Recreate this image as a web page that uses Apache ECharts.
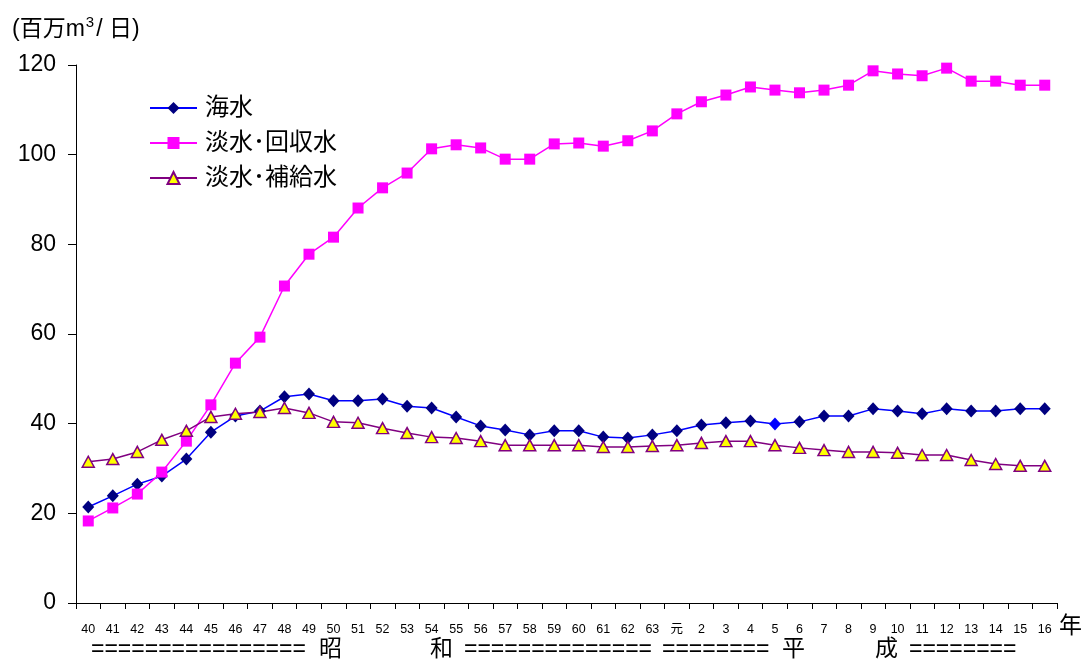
<!DOCTYPE html>
<html><head><meta charset="utf-8">
<script src="https://cdn.jsdelivr.net/npm/echarts@6/dist/echarts.min.js"></script>
<style>html,body{margin:0;padding:0;background:#fff}#c{width:1083px;height:664px}</style>
</head><body><div id="c"></div>
<script>
const years = ['40','41','42','43','44','45','46','47','48','49','50','51','52','53','54','55','56','57','58','59','60','61','62','63','元','2','3','4','5','6','7','8','9','10','11','12','13','14','15','16'];
const seaWater = [21.4,23.9,26.5,28.3,32.1,38.1,41.7,42.8,46.0,46.6,45.1,45.1,45.5,43.9,43.5,41.5,39.5,38.6,37.5,38.4,38.4,37.0,36.8,37.5,38.4,39.7,40.2,40.6,39.9,40.4,41.7,41.7,43.3,42.8,42.2,43.3,42.8,42.8,43.3,43.3];
const freshRecovered = [18.3,21.2,24.3,29.2,36.1,44.2,53.5,59.3,70.7,77.8,81.6,88.1,92.6,95.9,101.3,102.2,101.5,99.0,99.0,102.4,102.6,101.9,103.1,105.3,109.1,111.8,113.3,115.1,114.4,113.8,114.4,115.5,118.7,118.0,117.6,119.3,116.4,116.4,115.5,115.5];
const freshSupply = [31.5,32.1,33.7,36.4,38.4,41.5,42.2,42.6,43.5,42.4,40.4,40.2,39.0,37.9,37.0,36.8,36.1,35.2,35.2,35.2,35.2,34.8,34.8,35.0,35.2,35.7,36.1,36.1,35.2,34.6,34.1,33.7,33.7,33.5,33.0,33.0,31.9,31.0,30.6,30.6];
const seriesNames = ['海水','淡水･回収水','淡水･補給水'];
const yTicks = [0,20,40,60,80,100,120];
const highlightIndex = years.indexOf('5');

const FONT = "'Liberation Sans', 'Noto Sans CJK JP', sans-serif";
const chart = echarts.init(document.getElementById('c'), null, {renderer:'canvas'});
const seaData = seaWater.map((v,i)=> i===highlightIndex ? {value:v,itemStyle:{color:'#0000FF'}} : v);
chart.setOption({
  animation:false,
  backgroundColor:'#fff',
  grid:{left:76,right:26,top:65,bottom:61,containLabel:false},
  legend:{
    orient:'vertical', left:149, top:96, padding:0, itemGap:11, itemWidth:47, itemHeight:15,
    textStyle:{fontSize:24,color:'#000',fontFamily:FONT,padding:[0,0,0,3]},
    data:seriesNames
  },
  xAxis:{
    type:'category', data:years, boundaryGap:true,
    axisLine:{lineStyle:{color:'#000',width:1}},
    axisTick:{show:true,length:6,lineStyle:{color:'#000'}},
    axisLabel:{fontSize:12.5,color:'#000',fontFamily:FONT,margin:20,interval:0}
  },
  yAxis:{
    type:'value', min:yTicks[0], max:yTicks[yTicks.length-1], interval:20,
    axisLine:{show:true,lineStyle:{color:'#000',width:1}},
    axisTick:{show:true,length:8,lineStyle:{color:'#000'}},
    axisLabel:{fontSize:23,color:'#000',fontFamily:FONT,margin:20},
    splitLine:{show:false}
  },
  series:[
    {name:seriesNames[0],type:'line',data:seaData,symbol:'diamond',symbolSize:[12,13],
     lineStyle:{color:'#0000FF',width:1.5},itemStyle:{color:'#000080',borderWidth:0}},
    {name:seriesNames[1],type:'line',data:freshRecovered,symbol:'rect',symbolSize:11,
     lineStyle:{color:'#FF00FF',width:1.5},itemStyle:{color:'#FF00FF',borderWidth:0}},
    {name:seriesNames[2],type:'line',data:freshSupply,symbol:'triangle',symbolSize:[12,11],
     lineStyle:{color:'#800080',width:1.5},itemStyle:{color:'#FFFF00',borderColor:'#800080',borderWidth:1.5}}
  ],
  graphic:[
    {type:'text',left:12,top:15,style:{rich:{n:{fontSize:23,fontFamily:FONT,fill:'#000',lineHeight:28},s:{fontSize:15,fontFamily:FONT,fill:'#000',lineHeight:28,padding:[0,2,14,1]}},text:'{n|(百万m}{s|3}{n|/ 日)}'}},
    {type:'text',left:1059,top:615,style:{text:'年',fontSize:23,fontFamily:FONT,fill:'#000'}},
    {type:'text',left:91,top:638,style:{text:'================',fontSize:23,fontFamily:FONT,fill:'#000'}},
    {type:'text',left:319,top:638,style:{text:'昭',fontSize:23,fontFamily:FONT,fill:'#000'}},
    {type:'text',left:430,top:638,style:{text:'和',fontSize:23,fontFamily:FONT,fill:'#000'}},
    {type:'text',left:464,top:638,style:{text:'==============',fontSize:23,fontFamily:FONT,fill:'#000'}},
    {type:'text',left:662,top:638,style:{text:'========',fontSize:23,fontFamily:FONT,fill:'#000'}},
    {type:'text',left:782,top:638,style:{text:'平',fontSize:23,fontFamily:FONT,fill:'#000'}},
    {type:'text',left:875,top:638,style:{text:'成',fontSize:23,fontFamily:FONT,fill:'#000'}},
    {type:'text',left:909,top:638,style:{text:'========',fontSize:23,fontFamily:FONT,fill:'#000'}}
  ]
});
</script></body></html>
